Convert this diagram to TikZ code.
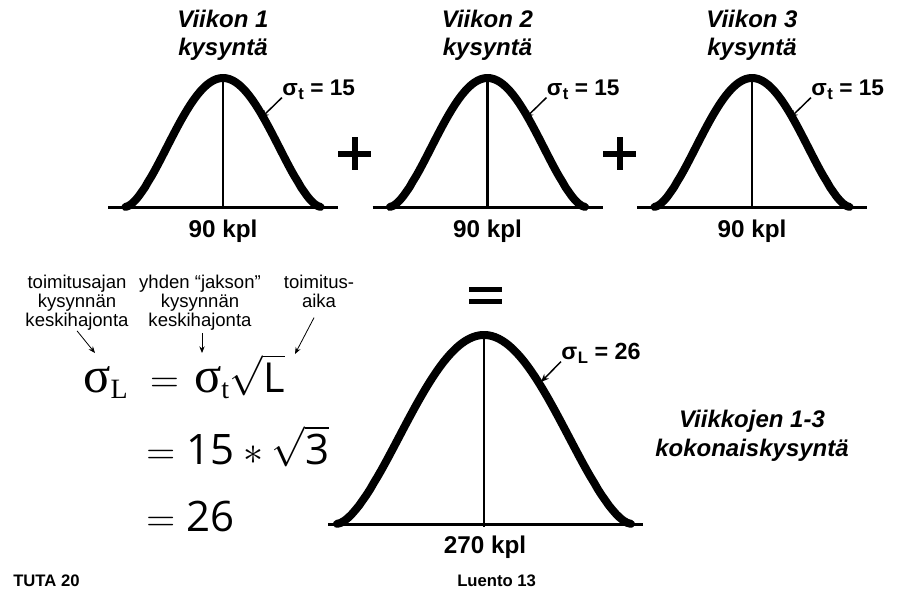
\RequirePackage{fix-cm}
\documentclass[tikz,border=0pt]{standalone}
\usepackage{amsmath}
\usepackage{fontspec}
\setmainfont{Liberation Sans}
\newfontfamily\greekfont{Liberation Serif}
\newfontfamily\numfont{Open Sans}
\usetikzlibrary{arrows.meta}

\tikzset{
  bell/.style={line width=6pt, line cap=round, line join=round},
  axisline/.style={line width=2.25pt},
  midline/.style={line width=1.9pt},
  weektitle/.style={font=\fontsize{18}{21}\selectfont\bfseries\itshape, align=center, inner sep=0pt},
  qty/.style={font=\fontsize{18.2}{21}\selectfont\bfseries, inner sep=0pt, anchor=base},
  siglabel/.style={font=\fontsize{17}{20}\selectfont\bfseries, inner sep=0pt, anchor=base west},
  sigarrow/.style={line width=1.1pt, -{Stealth[length=6pt,width=5pt]}},
  note/.style={font=\fontsize{13.9}{14.25}\selectfont, align=center, inner sep=0pt},
  notearrow/.style={line width=0.6pt, -{Stealth[length=5pt,width=4pt]}},
  eqn/.style={font=\fontsize{30}{36}\selectfont, inner sep=0pt, anchor=base west},
  signs/.style={line width=4.5pt},
  footer/.style={font=\fontsize{12.5}{14}\selectfont\bfseries, inner sep=0pt, anchor=base west},
}
\newcommand{\sigsub}[1]{σ\kern0.5pt\raisebox{-0.4ex}{\fontsize{12.5}{12.5}\selectfont #1}}
\newcommand{\gsig}{\text{\greekfont\fontsize{38}{38}\selectfont σ}}
\newcommand{\gsub}[1]{\text{\greekfont #1}}
\newcommand{\bignum}[1]{\text{\numfont\fontsize{31.5}{36}\selectfont #1}}

\begin{document}
\begin{tikzpicture}[x=0.75pt,y=0.75pt,yscale=-1]
\useasboundingbox (0,0) rectangle (905,589);

% three weekly demands
\foreach \cx/\n in {223/1,487.5/2,752/3} {
  \draw[axisline] (\cx-115,207) -- (\cx+115,207);
  \draw[bell] plot[domain=-1:1,samples=61] ({\cx+97.5*\x},{207-129*((1+cos(180*\x))/2+0.0001)^0.8});
  \draw[midline] (\cx,75) -- (\cx,209);
  \node[weektitle, anchor=north] (title\n) at (\cx,10) {Viikon \n\\kysyntä};
  \node[qty] (qty\n) at (\cx,237) {90 kpl};
  \node[siglabel] (sig\n) at (\cx+59,95) {\sigsub{t} = 15};
  \coordinate (tip\n) at (\cx+38,118);
  \draw[sigarrow] ([yshift=-2pt]sig\n.south west) -- (tip\n);
}

% plus signs
\draw[signs] (355,137) -- (355,170) (338,153.5) -- (371,153.5);
\draw[signs] (620,137) -- (620,170) (603,153.5) -- (636,153.5);
% equals sign
\draw[line width=3.75pt] (469,289) -- (502,289) (469,301) -- (502,301);

% total demand
\draw[axisline] (328,524) -- (643,524);
\draw[bell] plot[domain=-1:1,samples=81] ({484+147*\x},{524-189*((1+cos(180*\x))/2+0.0001)^0.8});
\draw[midline] (484,333) -- (484,527);
\node[qty] (qtysum) at (485,553) {270 kpl};
\node[siglabel, font=\fontsize{17.5}{20}\selectfont\bfseries] (sigsum) at (561,359) {\sigsub{L} = 26};
\coordinate (tipsum) at (541,382);
\draw[sigarrow] ([yshift=-2pt]sigsum.south west) -- (tipsum);
\node[weektitle, anchor=north, font=\fontsize{18}{21.75}\selectfont\bfseries\itshape] (total) at (752,410) {Viikkojen 1-3\\kokonaiskysyntä};

% notes
\node[note, anchor=north] (ann1) at (77,275) {toimitusajan\\kysynnän\\keskihajonta};
\node[note, anchor=north] (ann2) at (200,275) {yhden “jakson”\\kysynnän\\keskihajonta};
\node[note, anchor=north] (ann3) at (319,275) {toimitus-\\aika};
\coordinate (p1) at (95,353);
\coordinate (p2) at (202,353);
\coordinate (p3) at (295,354);
\draw[notearrow] (ann1.south) -- (p1);
\draw[notearrow, shorten <=2pt] (ann2.south -| p2) -- (p2);
\draw[notearrow, shorten <=8pt] (ann3.south) -- (p3);

% formula
\node[eqn] (f1) at (83,392) {$\gsig_{\gsub{L}}\hspace{8pt} = \hspace{3pt}\gsig_{\gsub{t}}\sqrt{\text{\numfont\fontsize{31}{32}\selectfont L}}$};
\node[eqn] (f2) at (146,464) {$= \bignum{15} * \sqrt{\bignum{3}}$};
\node[eqn] (f3) at (146,531) {$= \bignum{26}$};

% footer
\node[footer] (course) at (13,586) {TUTA 20};
\node[footer] (lecture) at (457,586) {Luento 13};
\end{tikzpicture}
\end{document}
